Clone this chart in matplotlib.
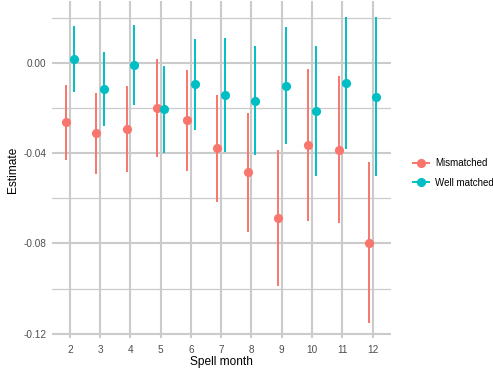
import matplotlib.pyplot as plt
from matplotlib.lines import Line2D
import numpy as np

plt.rcParams['font.family'] = ['Liberation Sans', 'DejaVu Sans']

# Estimates by spell month
months = [2, 3, 4, 5, 6, 7, 8, 9, 10, 11, 12]

mis_est = [-0.0262, -0.0312, -0.0291, -0.0200, -0.0253, -0.0378, -0.0485,
           -0.0686, -0.0364, -0.0386, -0.0797]
mis_lo = [-0.0430, -0.0492, -0.0485, -0.0415, -0.0478, -0.0615, -0.0748,
          -0.0989, -0.0699, -0.0711, -0.1152]
mis_hi = [-0.0098, -0.0132, -0.0101, 0.0016, -0.0031, -0.0141, -0.0223,
          -0.0386, -0.0027, -0.0058, -0.0440]

well_est = [0.0019, -0.0115, -0.0010, -0.0204, -0.0093, -0.0141, -0.0167,
            -0.0101, -0.0213, -0.0090, -0.0149]
well_lo = [-0.0127, -0.0278, -0.0186, -0.0400, -0.0297, -0.0393, -0.0408,
           -0.0359, -0.0500, -0.0383, -0.0501]
well_hi = [0.0164, 0.0047, 0.0168, -0.0012, 0.0105, 0.0112, 0.0075,
           0.0158, 0.0075, 0.0203, 0.0203]

groups = ["Mismatched", "Well matched"]
colors = ["#F8766D", "#00BFC4"]

fig = plt.figure(figsize=(4.93, 3.71), dpi=100)
ax = fig.add_axes([0.105, 0.0898, 0.6875, 0.9076])

x = np.array(months, dtype=float)
series = [(mis_est, mis_lo, mis_hi), (well_est, well_lo, well_hi)]
offsets = [-0.125, 0.125]
for (est, lo, hi), off, col in zip(series, offsets, colors):
    ax.vlines(x + off, lo, hi, color=col, lw=1.4, zorder=3)
    ax.plot(x + off, est, 'o', color=col, ms=6.6, mec='none', zorder=4)

# grid like theme_minimal
ax.set_xlim(1.4, 12.6)
ax.set_ylim(-0.1218, 0.0275)
ax.set_xticks(months)
ax.set_yticks([0.0, -0.04, -0.08, -0.12])
ax.set_yticklabels(["0.00", "-0.04", "-0.08", "-0.12"])
ax.set_yticks([0.02, -0.02, -0.06, -0.10], minor=True)
ax.grid(which='major', color='#CBCBCB', lw=1.5, zorder=0)
ax.grid(which='minor', axis='y', color='#CBCBCB', lw=0.9, zorder=0)
ax.set_axisbelow(True)
for s in ax.spines.values():
    s.set_visible(False)
ax.tick_params(which='both', length=0, labelsize=7.2, labelcolor='#4D4D4D')
ax.tick_params(axis='x', pad=5)
ax.tick_params(axis='y', pad=4)

ax.set_xlabel("Spell month", fontsize=8.6, labelpad=1)
ax.set_ylabel("Estimate", fontsize=8.6, labelpad=3)

handles = [Line2D([], [], color=c, lw=1.4, marker='o', ms=6.6, mec='none')
           for c in colors]
fig.legend(handles, groups, loc='center left', bbox_to_anchor=(0.82, 0.534),
           frameon=False, fontsize=7.0, handlelength=1.6, handletextpad=0.7,
           labelspacing=1.0)

fig.savefig("out.png", dpi=100)
